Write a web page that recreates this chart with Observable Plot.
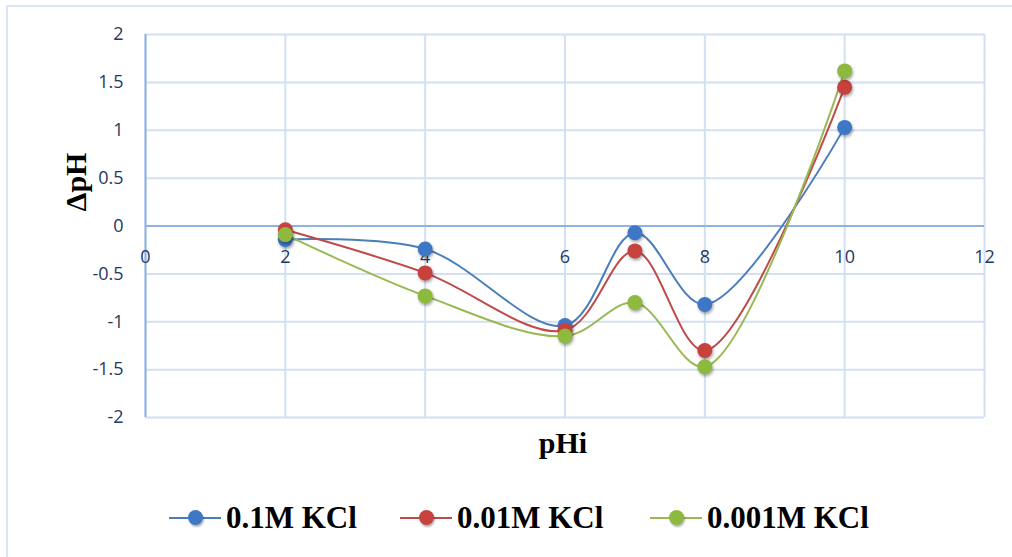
<!DOCTYPE html>
<html>
<head>
<meta charset="utf-8">
<script src="https://cdn.jsdelivr.net/npm/d3@7"></script>
<script src="https://cdn.jsdelivr.net/npm/@observablehq/plot@0.6"></script>
<style>
  html, body { margin: 0; padding: 0; background: #fff; }
  #wrap { position: relative; width: 1012px; height: 557px; overflow: hidden; }
  #frame { position: absolute; left: 6px; top: 5px; width: 1100px; height: 700px;
           border-left: 2px solid #dbe6f4; border-top: 2px solid #dbe6f4; }
  #chart { position: absolute; left: 0; top: 0; }
  #ylabel { position: absolute; left: 76px; top: 182px; transform: translate(-50%, -50%) rotate(-90deg);
            font: bold 30px "Liberation Serif", "Times New Roman", serif; color: #000; white-space: nowrap; }
  #xlabel { position: absolute; left: 563px; top: 443px; transform: translate(-50%, -50%);
            font: bold 30px "Liberation Serif", "Times New Roman", serif; color: #000; }
  #legend { position: absolute; left: 0; top: 518px; width: 1012px; }
  .item { position: absolute; top: 0; transform: translateY(-50%); display: flex; align-items: center;
          font: bold 31px "Liberation Serif", "Times New Roman", serif; color: #000; white-space: nowrap; }
  .sw { position: relative; width: 52px; height: 20px; margin-right: 5px; }
  .sw .ln { position: absolute; left: 0; right: 0; top: 9px; height: 2px; }
  .sw .dt { position: absolute; left: 19px; top: 2px; width: 15px; height: 15px; border-radius: 50%;
            box-shadow: 1px 2px 2px rgba(0,0,0,0.3); }
</style>
</head>
<body>
<div id="wrap">
  <div id="frame"></div>
  <div id="chart"></div>
  <div id="ylabel">ΔpH</div>
  <div id="xlabel">pHi</div>
  <div id="legend"></div>
</div>
<script>
// Initial pH values and the measured pH shift for each KCl concentration
const pHi = [2, 4, 6, 7, 8, 10];
const dpH_01 = [-0.14, -0.24, -1.04, -0.07, -0.82, 1.03];
const dpH_001 = [-0.04, -0.49, -1.09, -0.26, -1.30, 1.45];
const dpH_0001 = [-0.09, -0.73, -1.15, -0.80, -1.47, 1.62];

const seriesNames = ["0.1M KCl", "0.01M KCl", "0.001M KCl"];
const lineColors = ["#4a7ebb", "#be4b48", "#98b954"];
const dotColors = ["#3d77c6", "#c7413d", "#8dba3c"];

const xTicks = [0, 2, 4, 6, 8, 10, 12];
const yTicks = [-2, -1.5, -1, -0.5, 0, 0.5, 1, 1.5, 2];

const valuesBySeries = [dpH_01, dpH_001, dpH_0001];
const rows = [];
seriesNames.forEach((s, i) => {
  pHi.forEach((x, j) => rows.push({ series: s, x, y: valuesBySeries[i][j] }));
});

const gridColor = "#d3e0f2";
const axisColor = "#8db3e2";
const tickTextColor = "#1f3864";
const tickFont = "Open Sans, Noto Sans, sans-serif";

const chart = Plot.plot({
  width: 1012,
  height: 470,
  marginTop: 34,
  marginBottom: 53,
  marginLeft: 145,
  marginRight: 28,
  style: { background: "transparent", fontFamily: tickFont },
  x: { domain: [0, 12], axis: null },
  y: { domain: [-2, 2] },
  color: { domain: seriesNames, range: lineColors },
  marks: [
    Plot.gridX(xTicks, { stroke: gridColor, strokeOpacity: 1, strokeWidth: 2 }),
    Plot.gridY(yTicks, { stroke: gridColor, strokeOpacity: 1, strokeWidth: 2 }),
    Plot.ruleY([0], { stroke: axisColor, strokeWidth: 2 }),
    Plot.ruleX([0], { stroke: axisColor, strokeWidth: 2 }),
    Plot.axisY(yTicks, {
      tickSize: 0, tickPadding: 22, tickFormat: d => String(d),
      fontSize: 18, fill: tickTextColor, label: null
    }),
    // x tick labels sit just under the zero line, where the axis crosses
    Plot.text(xTicks, {
      x: d => d, y: () => 0, text: d => String(d), dy: 31,
      fontSize: 18, fill: tickTextColor
    }),
    Plot.line(rows, {
      x: "x", y: "y", z: "series", stroke: "series",
      strokeWidth: 2, curve: "catmull-rom"
    }),
    Plot.dot(rows, {
      x: "x", y: "y", r: 7.5,
      fill: d => dotColors[seriesNames.indexOf(d.series)],
      stroke: "none"
    })
  ]
});

chart.querySelectorAll("circle").forEach(c => c.style.filter = "drop-shadow(1px 2px 1.5px rgba(0,0,0,0.35))");
document.getElementById("chart").appendChild(chart);

// Legend row beneath the plot
const legendX = [169, 400, 650];
const legend = document.getElementById("legend");
seriesNames.forEach((s, i) => {
  const item = document.createElement("div");
  item.className = "item";
  item.style.left = legendX[i] + "px";
  item.innerHTML = `<span class="sw"><span class="ln" style="background:${lineColors[i]}"></span>` +
    `<span class="dt" style="background:${dotColors[i]}"></span></span><span>${s}</span>`;
  legend.appendChild(item);
});
</script>
</body>
</html>
